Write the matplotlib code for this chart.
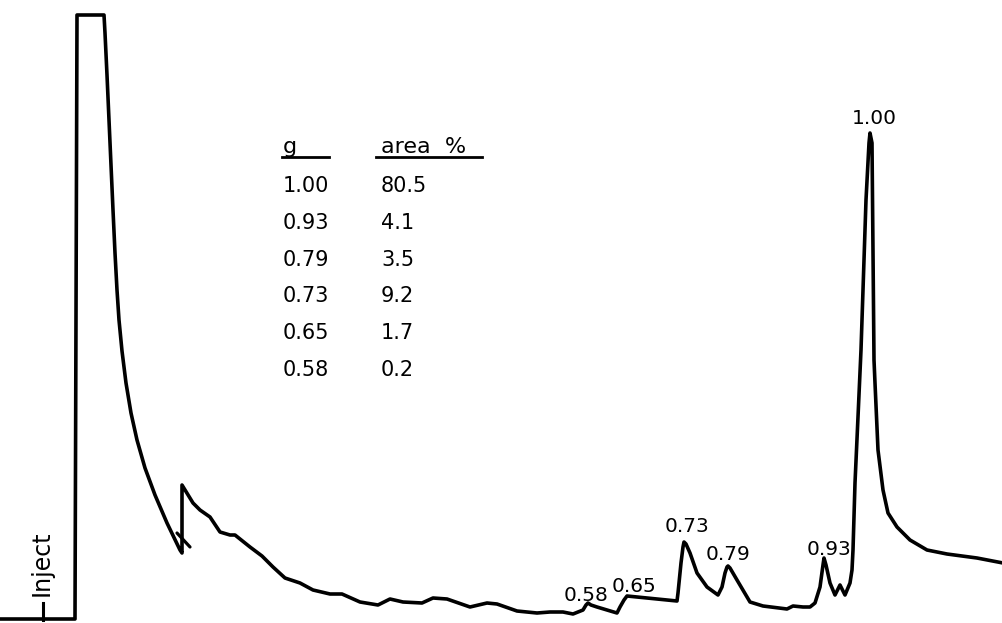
import matplotlib
matplotlib.use("Agg")
import matplotlib.pyplot as plt

# Detector trace: retention position and recorder deflection (height above the chart bottom)
trace_time = [0, 75, 77, 104, 105, 107, 109, 111, 113, 115, 117, 119, 122, 126, 131, 137,
              145, 155, 167, 180, 182,
              182, 193, 200, 210, 220, 230, 235, 250, 262, 273, 285, 300, 313, 330, 342,
              360, 378, 390, 403, 422, 433, 447, 470, 487, 497, 517, 537, 550, 563, 573,
              583, 586, 588, 591, 597, 617, 620, 624, 627, 677, 678, 681, 683, 684, 686,
              690, 697, 707, 718, 722, 725, 727, 728, 730, 737, 750, 763, 787, 793, 803,
              810, 815, 820, 823, 824, 826, 830, 835, 840, 845, 850, 852, 853, 855, 858,
              861, 866, 869, 870, 872, 874, 875, 878, 883, 888, 897, 910, 927, 947, 977,
              1003]
trace_response = [4, 4, 608, 608, 590, 548, 503, 458, 413, 370, 333, 303, 272, 240, 210, 183,
                  155, 128, 100, 73, 70,
                  138, 120, 113, 106, 91, 88, 88, 76, 67, 56, 45, 40, 33, 29, 29,
                  21, 18, 24, 21, 20, 25, 24, 16, 20, 19, 12, 10, 11, 11, 9,
                  13, 18, 20, 18, 16, 10, 16, 23, 27, 22, 30, 60, 76, 81, 79,
                  70, 50, 36, 28, 36, 50, 56, 57, 55, 43, 21, 17, 14, 17, 16,
                  16, 20, 36, 58, 65, 58, 40, 28, 38, 28, 40, 53, 73, 140, 206,
                  273, 423, 480, 490, 480, 263, 240, 173, 133, 110, 96, 83, 73, 69, 65,
                  60]

# Pen overshoot mark at the range switch
pen_mark_time = [177, 190]
pen_mark_response = [90, 76]

# Peak identification (relative retention g) and label anchors
peak_labels = ["0.58", "0.65", "0.73", "0.79", "0.93", "1.00"]
peak_label_x = [586, 634, 687, 728, 829, 874]
peak_label_y = [22, 31, 91, 63, 68, 499]

# Area table
table_g = ["1.00", "0.93", "0.79", "0.73", "0.65", "0.58"]
table_area = ["80.5", "4.1", "3.5", "9.2", "1.7", "0.2"]

W, H = 1003, 623
fig = plt.figure(figsize=(W / 100, H / 100), dpi=100)
ax = fig.add_axes([0, 0, 1, 1])
ax.set_xlim(0, W)
ax.set_ylim(0, H)
ax.axis("off")

ink = "black"
ax.plot(trace_time, trace_response, color=ink, lw=2.6,
        solid_joinstyle="round", solid_capstyle="round")
ax.plot(pen_mark_time, pen_mark_response, color=ink, lw=2.3, solid_capstyle="round")

font = "DejaVu Sans"
for lab, x, y in zip(peak_labels, peak_label_x, peak_label_y):
    ax.text(x, y, lab, ha="center", va="baseline", fontsize=14.5,
            family=font, color=ink)

# Inject marker
ax.plot([43, 43], [3, 20], color=ink, lw=2.2)
ax.text(42, 27, "Inject", rotation=90, ha="center", va="bottom",
        fontsize=17, family=font, color=ink)

# Table header with underlines
hdr_y = H - 153
ax.text(283, hdr_y, "g", ha="left", va="baseline", fontsize=16, family=font, color=ink)
ax.text(381, hdr_y, "area  %", ha="left", va="baseline", fontsize=16, family=font, color=ink)
ax.plot([282, 329], [H - 157, H - 157], color=ink, lw=2.0)
ax.plot([376, 482], [H - 157, H - 157], color=ink, lw=2.0)

row_y0 = H - 192
row_step = 36.8
for i, (g, a) in enumerate(zip(table_g, table_area)):
    y = row_y0 - i * row_step
    ax.text(283, y, g, ha="left", va="baseline", fontsize=15, family=font, color=ink)
    ax.text(381, y, a, ha="left", va="baseline", fontsize=15, family=font, color=ink)

fig.savefig("out.png", dpi=100, facecolor="white")
